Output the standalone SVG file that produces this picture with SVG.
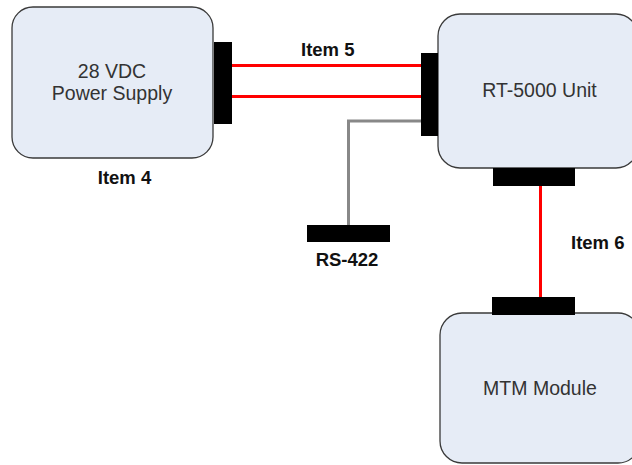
<svg xmlns="http://www.w3.org/2000/svg" width="632" height="465" viewBox="0 0 632 465">
<style>
.box{fill:#E6ECF6;stroke:#3a3a3a;stroke-width:1.3}
.conn{fill:#000}
.lbl{font-family:"Liberation Sans",Arial,sans-serif;font-size:19.5px;fill:#333;text-anchor:middle}
.item{font-family:"Liberation Sans",Arial,sans-serif;font-size:18.5px;font-weight:bold;fill:#111}
.red{stroke:#ff0000;stroke-width:3;fill:none}
.grey{stroke:#888;stroke-width:3;fill:none}
</style>
<rect width="632" height="465" fill="#fff"/>
<g id="connectors">
<line class="red" x1="232" y1="65.5" x2="421" y2="65.5"/>
<line class="red" x1="232" y1="96.5" x2="421" y2="96.5"/>
<polyline class="grey" points="421,121 348.5,121 348.5,225"/>
<line class="red" x1="540.5" y1="186" x2="540.5" y2="297"/>
<text class="item" x="301" y="56">Item 5</text>
<text class="item" x="571" y="249">Item 6</text>
</g>
<g id="power-supply">
<rect class="box" x="12" y="7" width="201" height="151" rx="21"/>
<rect class="conn" x="214" y="42" width="18" height="82"/>
<text class="lbl" x="112" y="77.5">28 VDC</text>
<text class="lbl" x="112" y="99.5">Power Supply</text>
<text class="item" x="124.5" y="184" text-anchor="middle">Item 4</text>
</g>
<g id="rt5000">
<rect class="box" x="438" y="14" width="200" height="154" rx="22"/>
<rect class="conn" x="421" y="53" width="17" height="83"/>
<rect class="conn" x="493" y="168" width="82" height="18"/>
<text class="lbl" x="539.5" y="97">RT-5000 Unit</text>
</g>
<g id="rs422">
<rect class="conn" x="307" y="225" width="83" height="17"/>
<text class="item" x="347" y="266" text-anchor="middle">RS-422</text>
</g>
<g id="mtm">
<rect class="box" x="440" y="313" width="200" height="150" rx="22"/>
<rect class="conn" x="492" y="297" width="83" height="18"/>
<text class="lbl" x="540" y="395">MTM Module</text>
</g>
</svg>
